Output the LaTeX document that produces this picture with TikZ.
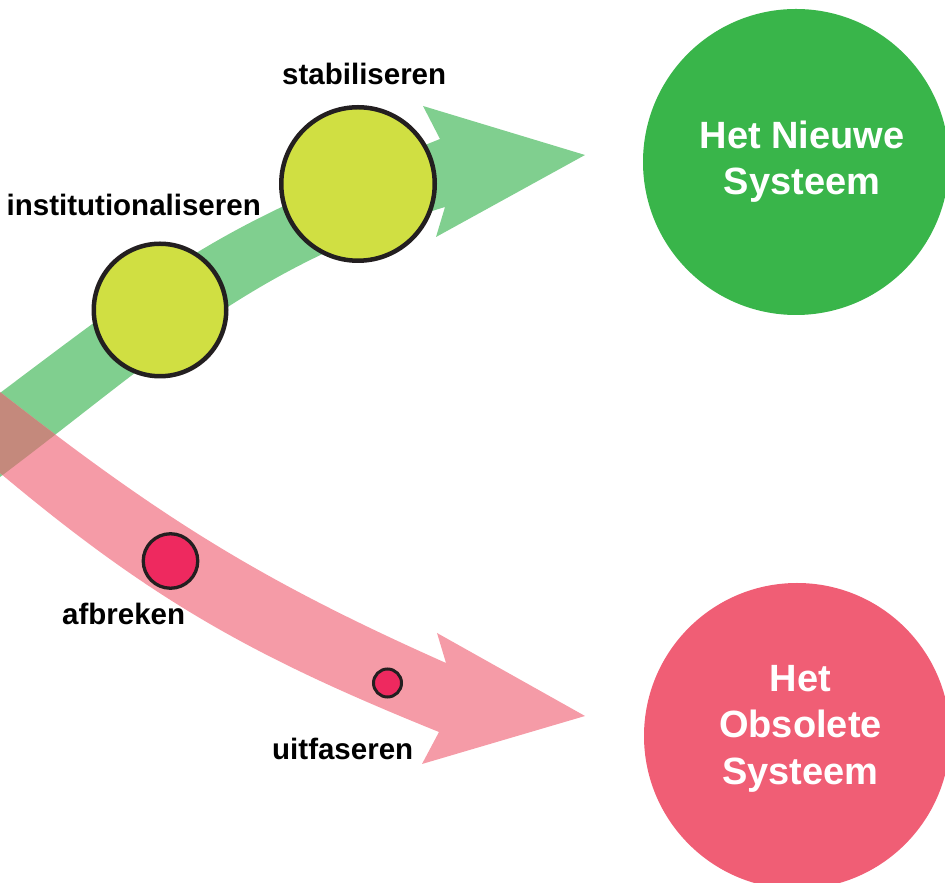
\documentclass[tikz,border=0pt]{standalone}
\usepackage{fontspec}
\setmainfont{Liberation Sans}

\definecolor{shaftgreen}{RGB}{128,207,143}
\definecolor{newgreen}{RGB}{57,181,74}
\definecolor{shaftpink}{RGB}{245,155,167}
\definecolor{oldred}{RGB}{240,94,117}
\definecolor{dotred}{RGB}{238,41,95}
\definecolor{lime}{RGB}{208,223,66}
\definecolor{ink}{RGB}{35,31,32}
\definecolor{mixed}{RGB}{196,137,124}

\tikzset{
	stage/.style={circle, draw=ink, fill=lime, line width=4.5pt, inner sep=0pt},
	dot/.style={circle, draw=ink, fill=dotred, line width=3.3pt, inner sep=0pt},
	system/.style={circle, inner sep=0pt, minimum size=306pt},
	systext/.style={text=white, align=center, font=\bfseries\fontsize{38}{46.5}\selectfont},
	steplabel/.style={anchor=base west, inner sep=0pt, font=\bfseries\fontsize{29.5}{34}\selectfont}
}

\def\greenpath{(0,490) to [out=37, in=202, looseness=1.2] (440,744) -- (423,777) -- (585,728) -- (436,646) -- (445,676) to [out=197, in=37] (0,406) -- cycle}
\def\redpath{(0,491) to [out=-38, in=156] (446,220) -- (437,250) -- (585,167) -- (422,119) -- (439,151) to [out=158, in=-40] (0,410) -- cycle}

\begin{document}
\begin{tikzpicture}[x=1pt, y=1pt]
		\useasboundingbox (0,0) rectangle (945,883);
		\clip (0,0) rectangle (945,883);

		\fill [shaftgreen] \greenpath;
		\fill [shaftpink] \redpath;
		\begin{scope}
			\clip \greenpath;
			\fill [mixed] \redpath;
		\end{scope}

		\node [stage, minimum size=132.5pt] (institutionalise) at (160,573) {};
		\node [stage, minimum size=153.5pt] (stabilise) at (358,699) {};
		\node [dot, minimum size=54.5pt] (breakdown) at (170.5,322) {};
		\node [dot, minimum size=28pt, line width=3pt] (phaseout) at (387.5,200) {};

		\node [system, fill=newgreen] (new) at (796,721) {};
		\node [system, fill=oldred] (obsolete) at (797,147) {};
		\node [systext] (new-text) at (802,721.5) {Het Nieuwe\\Systeem};
		\node [systext] (obsolete-text) at (800.5,154.5) {Het\\Obsolete\\Systeem};

		\node [steplabel] (institutionalise-label) at (6.5,667) {institutionaliseren};
		\node [steplabel] (stabilise-label) at (282,798) {stabiliseren};
		\node [steplabel] (breakdown-label) at (62,258) {afbreken};
		\node [steplabel] (phaseout-label) at (272,123) {uitfaseren};
	\end{tikzpicture}
\end{document}
